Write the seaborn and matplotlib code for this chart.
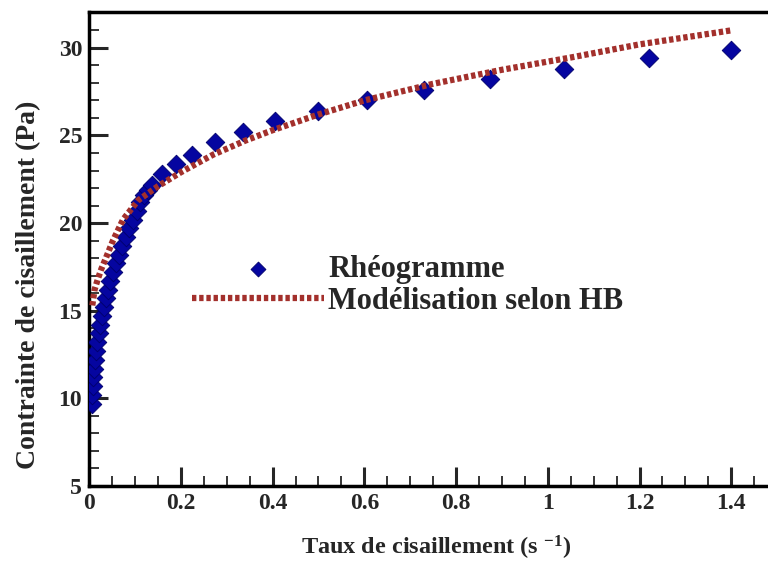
import matplotlib
matplotlib.use("Agg")
import matplotlib.pyplot as plt
import seaborn as sns
import pandas as pd
from matplotlib.ticker import MultipleLocator

# Rhéogramme (measured points)
shear_rate = [0.006, 0.007, 0.008, 0.009, 0.011, 0.013, 0.015, 0.018, 0.021, 0.024,
              0.028, 0.032, 0.036, 0.041, 0.046, 0.052, 0.058, 0.065, 0.072, 0.080,
              0.088, 0.096, 0.104, 0.112, 0.120, 0.128, 0.137, 0.160, 0.190, 0.225,
              0.275, 0.335, 0.405, 0.500, 0.605, 0.730, 0.875, 1.035, 1.220, 1.400]
shear_stress = [9.7, 10.2, 10.7, 11.2, 11.7, 12.2, 12.7, 13.2, 13.7, 14.2,
                14.7, 15.2, 15.7, 16.2, 16.7, 17.2, 17.7, 18.2, 18.7, 19.2,
                19.7, 20.2, 20.7, 21.2, 21.6, 21.9, 22.2, 22.8, 23.4, 23.9,
                24.6, 25.2, 25.8, 26.4, 27.0, 27.6, 28.2, 28.8, 29.4, 29.9]

# Modélisation selon HB (curve)
model_rate = [0.007, 0.012, 0.019, 0.027, 0.035, 0.052, 0.074, 0.107, 0.15, 0.20,
              0.27, 0.34, 0.40, 0.50, 0.60, 0.75, 0.90, 1.05, 1.20, 1.30, 1.40]
model_stress = [15.3, 16.2, 16.8, 17.4, 17.9, 19.0, 20.2, 21.3, 22.1, 22.9,
                23.9, 24.7, 25.3, 26.2, 27.0, 27.95, 28.75, 29.45, 30.2, 30.6, 31.0]

x_ticks = [0, 0.2, 0.4, 0.6, 0.8, 1.0, 1.2, 1.4]
x_ticklabels = ["0", "0.2", "0.4", "0.6", "0.8", "1", "1.2", "1.4"]
y_ticks = [5, 10, 15, 20, 25, 30]

sns.set_style("white")
plt.rcParams["font.family"] = ["Liberation Serif", "DejaVu Serif"]
plt.rcParams["font.weight"] = "bold"
plt.rcParams["mathtext.fontset"] = "custom"
plt.rcParams["mathtext.rm"] = "Liberation Serif:bold"
plt.rcParams["mathtext.it"] = "Liberation Serif:bold"
plt.rcParams["mathtext.bf"] = "Liberation Serif:bold"

fig = plt.figure(figsize=(7.68, 5.69), dpi=100)
ax = fig.add_axes([0.116, 0.146, 0.884, 0.833])

pts = pd.DataFrame({"x": shear_rate, "y": shear_stress})
mod = pd.DataFrame({"x": model_rate, "y": model_stress})

sns.scatterplot(data=pts, x="x", y="y", ax=ax, marker="D", s=90, color="#0505A0",
                edgecolor="#00006A", linewidth=0.6, label="Rhéogramme", zorder=3)
sns.lineplot(data=mod, x="x", y="y", ax=ax, color="#A3302C", linewidth=4.5,
             linestyle=(0, (0.7, 0.45)), label="Modélisation selon HB", zorder=4)

ax.set_xlim(0, 1.48)
ax.set_ylim(5, 32.05)
ax.set_xticks(x_ticks)
ax.set_xticklabels(x_ticklabels)
ax.set_yticks(y_ticks)
ax.xaxis.set_minor_locator(MultipleLocator(0.05))
ax.yaxis.set_minor_locator(MultipleLocator(1))
ax.tick_params(axis="both", which="major", direction="in", length=14, width=2.2,
               labelsize=17, pad=5)
ax.tick_params(axis="both", which="minor", direction="in", length=7, width=1.3)
ax.tick_params(axis="x", which="both", bottom=True, top=False)
ax.tick_params(axis="y", which="both", left=True, right=False)
for lab in ax.get_xticklabels() + ax.get_yticklabels():
    lab.set_fontweight("bold")

for side in ["left", "bottom", "top"]:
    ax.spines[side].set_linewidth(2.5)
    ax.spines[side].set_color("black")
ax.spines["right"].set_visible(False)

ax.set_xlabel("Taux de cisaillement (s $^{-1}$)", fontsize=17.5, fontweight="bold")
ax.set_ylabel("Contrainte de cisaillement (Pa)", fontsize=20, fontweight="bold")
ax.xaxis.set_label_coords(0.511, -0.102)
ax.yaxis.set_label_coords(-0.07, 0.424)

leg = ax.legend(loc="upper left", bbox_to_anchor=(0.152, 0.487), frameon=False,
                borderaxespad=0, borderpad=0,
                handlelength=4.3, handletextpad=0.15, labelspacing=0.1,
                markerscale=0.8, prop={"family": "Liberation Serif", "weight": "bold", "size": 22})

fig.savefig("out.png", dpi=100)
